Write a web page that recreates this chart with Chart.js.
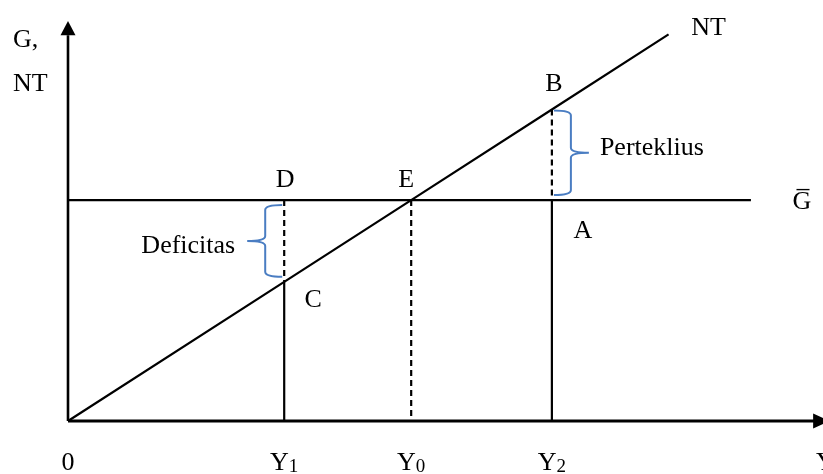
<!DOCTYPE html>
<html>
<head>
<meta charset="utf-8">
<script src="https://cdn.jsdelivr.net/npm/chart.js@4/dist/chart.umd.min.js"></script>
<style>
  html, body { margin: 0; padding: 0; background: #ffffff; }
  #wrap { width: 823px; height: 474px; }
</style>
</head>
<body>
<div id="wrap"><canvas id="c" width="823" height="474"></canvas></div>
<script>
// ---- data (model units: Y0 = 100, G-bar = 100, NT = t*Y) ----
const xTickLabels = ['0', 'Y', 'Y', 'Y', 'Y'];
const xTickSubs   = ['', '1', '0', '2', ''];
const xTickValues = [0, 63, 100, 141, 220];      // 0, Y1, Y0, Y2, axis end label
const yAxisLabels = ['G,', 'NT'];
const incomeY1 = 63, incomeY0 = 100, incomeY2 = 141;
const govSpending = 100;                         // G-bar level
const ntIncome = [0, 63, 100, 141, 175];         // NT line points (x)
const ntTax    = [0, 63, 100, 141, 175];         // NT line points (y)
const gLineX   = [0, 199];                       // extent of G-bar line
const xAxisEnd = [0, 218, 222];                  // start, line end, arrow tip
const yAxisEnd = [0, 174.6, 181];                // start, line end, arrow tip
const xMax = 220, yMax = 181.5;
const pointNames = ['D', 'E', 'B', 'C', 'A'];
const pointX     = [incomeY1, incomeY0, incomeY2, incomeY1, incomeY2];
const pointY     = [govSpending, govSpending, 141, 63, govSpending];
const braceText  = ['Deficitas', 'Perteklius'];

const SERIF = '"Liberation Serif", "Times New Roman", serif';
const BLUE = '#4a7dc2';

function seg(x1, y1, x2, y2, opts) {
  return Object.assign({
    data: [{x: x1, y: y1}, {x: x2, y: y2}],
    showLine: true, borderColor: '#000', borderWidth: 2.2,
    pointRadius: 0, pointHoverRadius: 0, clip: false, fill: false
  }, opts || {});
}
const dash = {borderDash: [6, 4]};

const datasets = [
  seg(xAxisEnd[0], 0, xAxisEnd[1], 0, {borderWidth: 3}),
  seg(0, yAxisEnd[0], 0, yAxisEnd[1], {borderWidth: 2.6}),
  {
    data: ntIncome.map((v, i) => ({x: v, y: ntTax[i]})),
    showLine: true, borderColor: '#000', borderWidth: 2.2,
    pointRadius: 0, clip: false, fill: false, tension: 0
  },
  seg(gLineX[0], govSpending, gLineX[1], govSpending),
  seg(incomeY1, govSpending, incomeY1, ntTax[1], dash),
  seg(incomeY1, ntTax[1], incomeY1, 0),
  seg(incomeY0, govSpending, incomeY0, 0, dash),
  seg(incomeY2, ntTax[3], incomeY2, govSpending, dash),
  seg(incomeY2, govSpending, incomeY2, 0)
];

function brace(ctx, tipX, top, bottom, dir) {
  // dir = -1 : "{" (cusp to the left), dir = +1 : "}" (cusp to the right)
  const spineX = tipX + dir * 17;
  const cuspX = tipX + dir * 35;
  const mid = (top + bottom) / 2;
  const r = 5;
  ctx.beginPath();
  ctx.moveTo(tipX, top);
  ctx.quadraticCurveTo(spineX, top, spineX, top + r);
  ctx.lineTo(spineX, mid - r);
  ctx.quadraticCurveTo(spineX, mid, cuspX, mid);
  ctx.moveTo(cuspX, mid);
  ctx.quadraticCurveTo(spineX, mid, spineX, mid + r);
  ctx.lineTo(spineX, bottom - r);
  ctx.quadraticCurveTo(spineX, bottom, tipX, bottom);
  ctx.stroke();
  return {cuspX, mid};
}

const decor = {
  id: 'decor',
  afterDatasetsDraw(chart) {
    const ctx = chart.ctx;
    const xs = chart.scales.x, ys = chart.scales.y;
    const px = v => xs.getPixelForValue(v);
    const py = v => ys.getPixelForValue(v);
    ctx.save();
    // arrowheads
    ctx.fillStyle = '#000';
    const ox = px(0), oy = py(0);
    ctx.beginPath();
    ctx.moveTo(ox, py(yAxisEnd[2]));
    ctx.lineTo(ox - 7.5, py(yAxisEnd[1]));
    ctx.lineTo(ox + 7.5, py(yAxisEnd[1]));
    ctx.closePath(); ctx.fill();
    ctx.beginPath();
    ctx.moveTo(px(xAxisEnd[2]), oy);
    ctx.lineTo(px(xAxisEnd[1]) - 3, oy - 7.5);
    ctx.lineTo(px(xAxisEnd[1]) - 3, oy + 7.5);
    ctx.closePath(); ctx.fill();

    // braces
    ctx.strokeStyle = BLUE; ctx.lineWidth = 2; ctx.lineJoin = 'round';
    const b1 = brace(ctx, px(incomeY1) - 2, py(govSpending) + 5, py(ntTax[1]) - 5, -1);
    const b2 = brace(ctx, px(incomeY2) + 2, py(ntTax[3]) + 1, py(govSpending) - 5, +1);

    // texts
    ctx.fillStyle = '#000';
    ctx.textBaseline = 'alphabetic';
    ctx.font = '26px ' + SERIF;
    ctx.textAlign = 'right';
    ctx.fillText(braceText[0], b1.cuspX - 12, b1.mid + 12);
    ctx.textAlign = 'left';
    ctx.fillText(braceText[1], b2.cuspX + 11, b2.mid + 2);

    // point labels
    const offs = [[1, -13], [-5, -13], [2, -18], [29, 25], [31, 38]];
    ctx.textAlign = 'center';
    pointNames.forEach((n, i) => {
      ctx.fillText(n, px(pointX[i]) + offs[i][0], py(pointY[i]) + offs[i][1]);
    });
    // line end labels
    ctx.fillText('NT', px(ntIncome[4]) + 40, py(ntTax[4]) + 1);
    ctx.fillText('G\u0305', px(gLineX[1]) + 51, py(govSpending) + 9);

    // y-axis title
    ctx.textAlign = 'left';
    ctx.fillText(yAxisLabels[0], ox - 55, py(yAxisEnd[2]) + 26);
    ctx.fillText(yAxisLabels[1], ox - 55, py(yAxisEnd[2]) + 70);

    // x tick labels with subscripts
    const base = oy + 49;
    xTickValues.forEach((v, i) => {
      ctx.font = '26px ' + SERIF;
      const w1 = ctx.measureText(xTickLabels[i]).width;
      ctx.font = '19px ' + SERIF;
      const w2 = xTickSubs[i] ? ctx.measureText(xTickSubs[i]).width : 0;
      let left = px(v) - (w1 + w2) / 2;
      if (i === xTickValues.length - 1) left = px(v) - 7;
      ctx.textAlign = 'left';
      ctx.font = '26px ' + SERIF;
      ctx.fillText(xTickLabels[i], left, base);
      if (xTickSubs[i]) {
        ctx.font = '19px ' + SERIF;
        ctx.fillText(xTickSubs[i], left + w1, base + 2);
      }
    });
    ctx.restore();
  }
};

new Chart(document.getElementById('c'), {
  type: 'scatter',
  data: {datasets},
  options: {
    responsive: false,
    devicePixelRatio: 1,
    animation: false,
    events: [],
    layout: {padding: {left: 68, top: 20, right: 0, bottom: 53}},
    plugins: {legend: {display: false}, tooltip: {enabled: false}},
    scales: {
      x: {type: 'linear', min: 0, max: xMax, display: false},
      y: {type: 'linear', min: 0, max: yMax, display: false}
    }
  },
  plugins: [decor]
});
</script>
</body>
</html>
